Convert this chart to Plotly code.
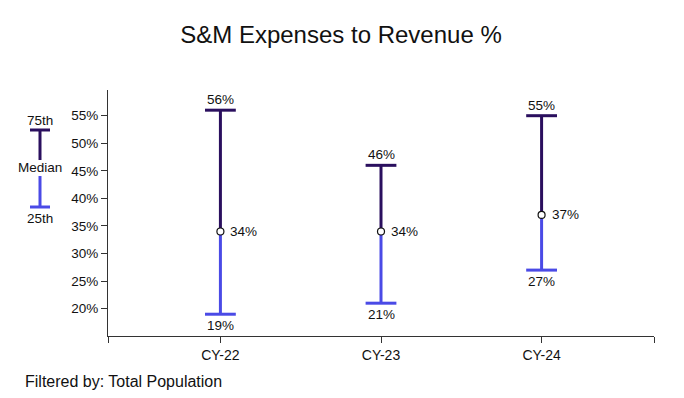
import plotly.graph_objects as go

categories = ["CY-22", "CY-23", "CY-24"]
p25 = [19, 21, 27]
median = [34, 34, 37]
p75 = [56, 46, 55]

y_ticks = [20, 25, 30, 35, 40, 45, 50, 55]

DARK = "#2A0F5E"
BLUE = "#4A4AE6"
FONT = "Liberation Sans, Arial, sans-serif"
TXT = "#111111"

xs = list(range(len(categories)))

fig = go.Figure()

ux, uy, lx, ly = [], [], [], []
for i, x in enumerate(xs):
    ux += [x, x, None]
    uy += [median[i], p75[i], None]
    lx += [x, x, None]
    ly += [p25[i], median[i], None]

fig.add_trace(go.Scatter(x=ux, y=uy, mode="lines", line=dict(color=DARK, width=3),
                         hoverinfo="skip", showlegend=False))
fig.add_trace(go.Scatter(x=lx, y=ly, mode="lines", line=dict(color=BLUE, width=3),
                         hoverinfo="skip", showlegend=False))
fig.add_trace(go.Scatter(x=xs, y=p75, mode="markers",
                         marker=dict(symbol="line-ew", size=22, line=dict(color=DARK, width=3)),
                         showlegend=False))
fig.add_trace(go.Scatter(x=xs, y=p25, mode="markers",
                         marker=dict(symbol="line-ew", size=22, line=dict(color=BLUE, width=3)),
                         showlegend=False))
fig.add_trace(go.Scatter(x=xs, y=median, mode="markers",
                         marker=dict(symbol="circle", size=7, color="white",
                                     line=dict(color="#111111", width=1.2)),
                         showlegend=False))

annots = []
for i, x in enumerate(xs):
    annots.append(dict(x=x, y=p75[i], xref="x", yref="y", text=f"{p75[i]}%",
                       showarrow=False, xanchor="center", yanchor="bottom", yshift=1,
                       font=dict(size=13.5, color=TXT, family=FONT)))
    annots.append(dict(x=x, y=p25[i], xref="x", yref="y", text=f"{p25[i]}%",
                       showarrow=False, xanchor="center", yanchor="top", yshift=-2,
                       font=dict(size=13.5, color=TXT, family=FONT)))
    annots.append(dict(x=x, y=median[i], xref="x", yref="y", text=f"{median[i]}%",
                       showarrow=False, xanchor="left", xshift=8,
                       font=dict(size=13.5, color=TXT, family=FONT)))

# the page body has an 8px offset; plot area in window px: x 108..654, y 90..336
W = 546.0
H = 246.0
def px(xp):
    return (xp - 108) / W
def py(yp):
    return (336 - yp) / H

lgx = 40
for label, yy in [("75th", 120), ("Median", 167), ("25th", 218)]:
    annots.append(dict(x=px(lgx), y=py(yy), xref="paper", yref="paper", text=label,
                       showarrow=False, xanchor="center", yanchor="middle",
                       font=dict(size=13.5, color=TXT, family=FONT)))
annots.append(dict(x=px(23), y=py(381), xref="paper", yref="paper",
                   text="Filtered by: Total Population",
                   showarrow=False, xanchor="left", yanchor="middle",
                   font=dict(size=16, color=TXT, family=FONT)))

shapes = [
    dict(type="line", xref="paper", yref="paper", x0=px(lgx), x1=px(lgx), y0=py(130), y1=py(160),
         line=dict(color=DARK, width=3)),
    dict(type="line", xref="paper", yref="paper", x0=px(lgx - 10), x1=px(lgx + 10), y0=py(130), y1=py(130),
         line=dict(color=DARK, width=3)),
    dict(type="line", xref="paper", yref="paper", x0=px(lgx), x1=px(lgx), y0=py(176), y1=py(207),
         line=dict(color=BLUE, width=3)),
    dict(type="line", xref="paper", yref="paper", x0=px(lgx - 10), x1=px(lgx + 10), y0=py(207), y1=py(207),
         line=dict(color=BLUE, width=3)),
]

fig.update_layout(
    width=676, height=390,
    margin=dict(l=100, r=30, t=82, b=62),
    paper_bgcolor="white", plot_bgcolor="white",
    title=dict(text="S&M Expenses to Revenue %", x=(341 - 8) / 676, xanchor="center",
               y=1 - 27 / 390, yanchor="middle",
               font=dict(size=24, color=TXT, family=FONT)),
    font=dict(family=FONT, size=13, color=TXT),
    annotations=annots,
    shapes=shapes,
    xaxis=dict(range=[-0.7, 2.7], tickvals=[-0.7] + xs + [2.7], ticktext=[""] + categories + [""],
               showgrid=False, zeroline=False, showline=True, linecolor="#333333", linewidth=1,
               ticks="outside", ticklen=6, tickcolor="#333333",
               tickfont=dict(size=14, color=TXT, family=FONT)),
    yaxis=dict(range=[15.05, 59.66], tickvals=y_ticks, ticktext=[f"{v}%" for v in y_ticks],
               showgrid=False, zeroline=False, showline=True, linecolor="#333333", linewidth=1,
               ticks="outside", ticklen=6, tickcolor="#333333",
               tickfont=dict(size=13.5, color=TXT, family=FONT)),
)

fig.write_html("out.html")
